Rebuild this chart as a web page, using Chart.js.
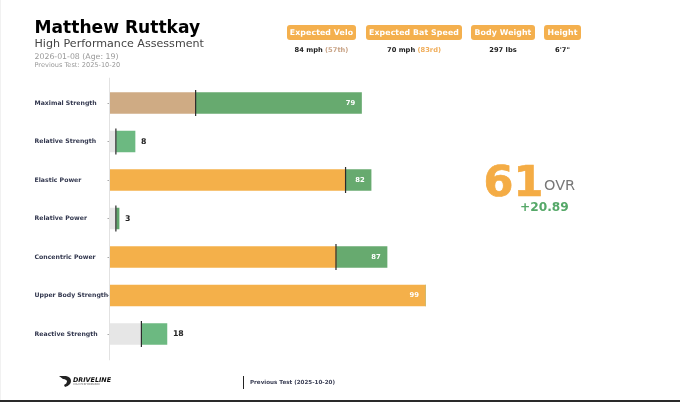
<!DOCTYPE html>
<html>
<head>
<meta charset="utf-8">
<script src="https://cdn.jsdelivr.net/npm/chart.js@4"></script>
<style>
  html, body { margin: 0; padding: 0; background: #fff; }
  body { width: 680px; height: 402px; position: relative; overflow: hidden; font-family: "DejaVu Sans", sans-serif; }
  #reportChart { position: absolute; left: 0; top: 0; }
  .txt { position: absolute; white-space: nowrap; }
  .pill { position: absolute; top: 25px; height: 15px; line-height: 15px; background: #f4b04e; border-radius: 3px; color: #fff; font-weight: bold; font-size: 7.8px; text-align: center; letter-spacing: 0.1px; white-space: nowrap; }
  .stat { position: absolute; top: 46px; font-weight: bold; font-size: 6.7px; line-height: 9px; text-align: center; color: #222; white-space: nowrap; }
  .stat span { color: #f0ad5a; }
  .stat span.muted { color: #c9a487; }
  #edge { position: absolute; left: 0; right: 0; bottom: 0; height: 2.5px; background: #2a2a2a; }
  #side { position: absolute; left: 0; top: 0; bottom: 0; width: 1px; background: #f1f1f1; }
</style>
</head>
<body>
<canvas id="reportChart" width="680" height="402"></canvas>

<div class="txt" style="left:34.5px;top:15px;font-size:17.1px;line-height:24px;font-weight:bold;color:#000">Matthew Ruttkay</div>
<div class="txt" style="left:34.5px;top:37px;font-size:11.1px;line-height:14px;color:#444">High Performance Assessment</div>
<div class="txt" style="left:34.5px;top:52px;font-size:7.8px;line-height:10px;color:#999">2026-01-08 (Age: 19)</div>
<div class="txt" style="left:34.5px;top:59.5px;font-size:6.6px;line-height:10px;color:#999">Previous Test: 2025-10-20</div>

<div id="stats"></div>

<div class="txt" style="left:483.5px;top:153px;font-size:43px;line-height:56px;font-weight:bold;color:#f4ac45;-webkit-text-stroke:0.7px #f4ac45">61</div>
<div class="txt" style="left:544px;top:175px;font-size:14.5px;line-height:20px;color:#777">OVR</div>
<div class="txt" style="left:520px;top:200px;font-size:12.2px;line-height:15px;font-weight:bold;color:#55a868">+20.89</div>

<div class="txt" style="left:73px;top:375.5px;font-size:6.4px;line-height:9px;font-weight:bold;font-style:italic;color:#111">DRIVELINE</div>
<div class="txt" style="left:73px;top:382.5px;font-size:2.6px;line-height:4px;color:#666">HIGH PERFORMANCE</div>
<svg style="position:absolute;left:59px;top:375px" width="13" height="13"><path d="M0 1 H7 Q12 2 12 6 Q12 10 6 12 L5 10 Q8 8.5 8 6.5 Q8 4.5 4 4 Z" fill="#222"/></svg>

<div style="position:absolute;left:243px;top:376px;width:1.4px;height:13px;background:#222"></div>
<div class="txt" style="left:250px;top:377.5px;font-size:5.6px;line-height:9px;font-weight:bold;color:#3b3f55">Previous Test (2025-10-20)</div>

<div id="side"></div>
<div id="edge"></div>

<script>
const categories = ['Maximal Strength', 'Relative Strength', 'Elastic Power', 'Relative Power', 'Concentric Power', 'Upper Body Strength', 'Reactive Strength'];
const currentScores = [79, 8, 82, 3, 87, 99, 18];
const previousScores = [27, 2, 74, 2, 71, null, 10];

const statNames = ['Expected Velo', 'Expected Bat Speed', 'Body Weight', 'Height'];
const statValues = ['84 mph', '70 mph', '297 lbs', '6\'7"'];
const statPercentiles = ['(57th)', '(83rd)', '', ''];

// styling per row / per pill
const baseColors = ['#cfab84', '#e6e6e6', '#f4b04a', '#e6e6e6', '#f4b04a', '#f4b04a', '#e6e6e6'];
const gainColors = ['#67aa6f', '#6cb981', '#67aa6f', '#5fa56c', '#67aa6f', '#67aa6f', '#6cb981'];
const pillBoxes = [[287, 69], [366, 96], [471, 64], [544, 37]];

const statsEl = document.getElementById('stats');
statNames.forEach((name, i) => {
  const [left, width] = pillBoxes[i];
  const muted = i === 0 ? ' class="muted"' : '';
  statsEl.innerHTML += `<div class="pill" style="left:${left}px;width:${width}px">${name}</div>
    <div class="stat" style="left:${left}px;width:${width}px">${statValues[i]} <span${muted}>${statPercentiles[i]}</span></div>`;
});

const baseValues = currentScores.map((v, i) => previousScores[i] === null ? v : previousScores[i]);
const gainValues = currentScores.map((v, i) => previousScores[i] === null ? 0 : v - previousScores[i]);

// previous test ticks, score labels and the long axis line
const overlays = {
  id: 'overlays',
  afterDatasetsDraw(chart) {
    const { ctx, scales: { x, y }, chartArea } = chart;
    ctx.save();
    ctx.strokeStyle = '#e2e2e2';
    ctx.lineWidth = 1;
    ctx.beginPath();
    ctx.moveTo(chartArea.left, chartArea.top - 6);
    ctx.lineTo(chartArea.left, chartArea.bottom + 7);
    ctx.stroke();

    categories.forEach((name, i) => {
      const cy = y.getPixelForValue(i);
      if (previousScores[i] !== null) {
        const px = x.getPixelForValue(previousScores[i]);
        ctx.strokeStyle = '#2b2b2b';
        ctx.lineWidth = 1.2;
        ctx.beginPath();
        ctx.moveTo(px, cy - 13);
        ctx.lineTo(px, cy + 13);
        ctx.stroke();
      }
      const end = x.getPixelForValue(currentScores[i]);
      ctx.textBaseline = 'middle';
      if (currentScores[i] > 50) {
        ctx.font = 'bold 6.8px "DejaVu Sans"';
        ctx.fillStyle = '#fff';
        ctx.textAlign = 'center';
        ctx.fillText(currentScores[i], end - 11, cy);
      } else {
        ctx.font = 'bold 7.8px "DejaVu Sans"';
        ctx.fillStyle = '#222';
        ctx.textAlign = 'left';
        ctx.fillText(currentScores[i], end + 6, cy);
      }
    });
    ctx.restore();
  }
};

new Chart(document.getElementById('reportChart').getContext('2d'), {
  type: 'bar',
  data: {
    labels: categories,
    datasets: [
      { label: 'Previous', data: baseValues, backgroundColor: baseColors, stack: 's', barThickness: 21 },
      { label: 'Gain', data: gainValues, backgroundColor: gainColors, stack: 's', barThickness: 21 }
    ]
  },
  options: {
    indexAxis: 'y',
    responsive: false,
    animation: false,
    layout: { padding: { left: 34.5, right: 251.5, top: 83.75, bottom: 48.75 } },
    plugins: { legend: { display: false }, tooltip: { enabled: false } },
    scales: {
      x: { stacked: true, min: 0, max: 100, display: false },
      y: {
        stacked: true,
        border: { display: false },
        grid: { drawOnChartArea: false, offset: false, tickLength: 2, color: '#aaa' },
        afterFit(scale) { scale.width = 75; },
        ticks: {
          crossAlign: 'far',
          autoSkip: false,
          color: '#33384f',
          font: { family: 'DejaVu Sans', size: 6.2, weight: 'bold' }
        }
      }
    }
  },
  plugins: [overlays]
});
</script>
</body>
</html>
